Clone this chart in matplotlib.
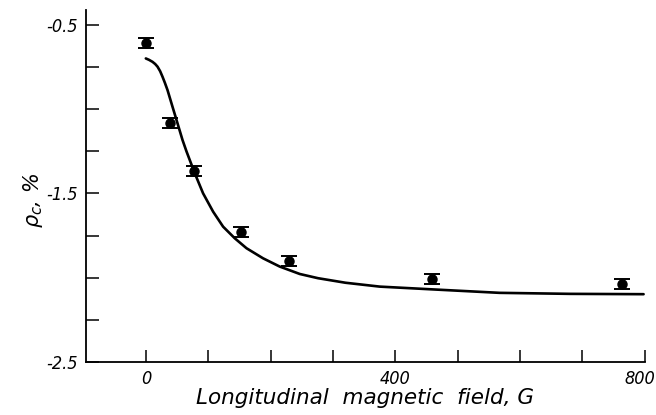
import numpy as np
import matplotlib
matplotlib.use("Agg")
import matplotlib.pyplot as plt
import matplotlib.transforms as mtransforms

# measured points (field in G, rho_c in %)
field = np.array([0, 38, 77, 153, 230, 458, 763])
rho_c = np.array([-0.605, -1.083, -1.365, -1.727, -1.899, -2.007, -2.039])
rho_err = np.array([0.03, 0.03, 0.03, 0.03, 0.03, 0.03, 0.03])

# theoretical curve
curve_field = np.array([0, 5, 10.7, 15, 18.8, 23, 26.8, 30.5, 34.8, 42.8, 50.8,
                        58.8, 65.2, 78.5, 91.8, 107.9, 123.9, 142.6, 161.4,
                        188, 214.7, 246.8, 276, 320, 375, 457, 567, 680, 798])
curve_rho = np.array([-0.698, -0.706, -0.718, -0.731, -0.747, -0.774, -0.807,
                      -0.842, -0.886, -0.985, -1.083, -1.182, -1.250, -1.380,
                      -1.499, -1.608, -1.697, -1.766, -1.825, -1.885, -1.934,
                      -1.978, -2.003, -2.030, -2.053, -2.069, -2.090, -2.096,
                      -2.098])

plt.rcParams['font.family'] = ['DejaVu Sans']
plt.rcParams['mathtext.fontset'] = 'dejavusans'

fig = plt.figure(figsize=(6.56, 4.15), dpi=100)
ax = fig.add_axes([0.131, 0.128, 0.852, 0.848])

ax.plot(curve_field, curve_rho, color='black', lw=1.9,
        solid_capstyle='round', solid_joinstyle='round')
ax.errorbar(field, rho_c, yerr=rho_err, fmt='o', color='black', ms=6.5,
            capsize=6, capthick=1.4, elinewidth=1.2)

ax.set_xlim(-96, 800)
ax.set_ylim(-2.5, -0.41)

ax.spines['top'].set_visible(False)
ax.spines['right'].set_visible(False)
for s in ('left', 'bottom'):
    ax.spines[s].set_linewidth(1.3)

ax.set_xticks([0, 400, 800])
ax.set_xticklabels(['0', '400', '800'])
ax.set_xticks(np.arange(0, 801, 100), minor=True)
ax.set_yticks([-2.5, -1.5, -0.5])
ax.set_yticklabels(['-2.5', '-1.5', '-0.5'])
ax.set_yticks(np.arange(-2.5, -0.49, 0.25), minor=True)

ax.tick_params(which='both', direction='in', length=9, width=1.1,
               labelsize=13, pad=6)
for lab in ax.get_xticklabels() + ax.get_yticklabels():
    lab.set_fontstyle('italic')
    lab.set_fontstretch('condensed')

# nudge "800" left so it stays inside the figure
last = ax.get_xticklabels()[-1]
last.set_transform(last.get_transform() +
                   mtransforms.ScaledTranslation(-5 / 100, 0, fig.dpi_scale_trans))

ax.set_xlabel('Longitudinal  magnetic  field, G', fontsize=15.5,
              fontstyle='italic', labelpad=0)
ax.set_ylabel(r'$\rho_c$, %', fontsize=15, fontstyle='italic')
ax.yaxis.set_label_coords(-0.073, 0.46)

fig.savefig('out.png', dpi=100)
